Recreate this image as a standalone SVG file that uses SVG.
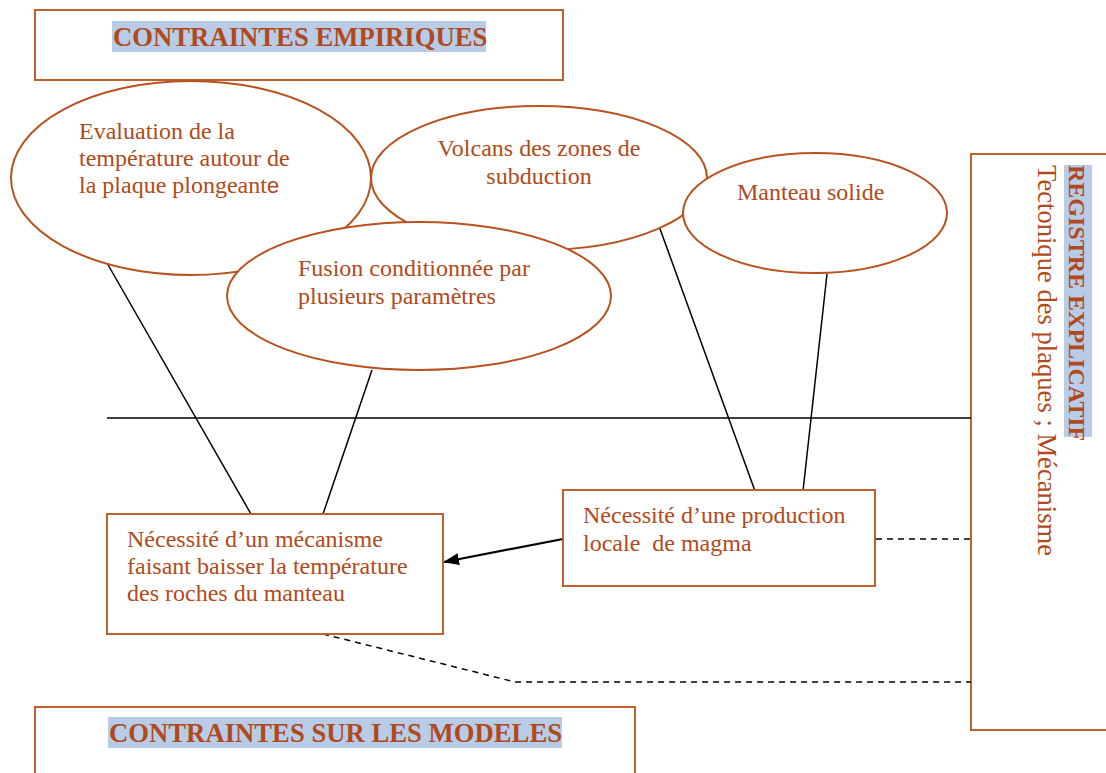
<svg xmlns="http://www.w3.org/2000/svg" width="1106" height="773" viewBox="0 0 1106 773">
<defs>
<style>
.box{fill:#fff;stroke:#C0602E;stroke-width:2}
.ell{fill:#fff;stroke:#B8521F;stroke-width:2}
.t{font-family:"Liberation Serif","Times New Roman",serif;font-size:24px;fill:#B04A1C}
.title{font-family:"Liberation Serif","Times New Roman",serif;font-size:26.7px;font-weight:bold;fill:#B04A1C}
.hl{fill:#B8CCE8}
.ln{stroke:#000;stroke-width:1.5;fill:none}
.dash{stroke:#000;stroke-width:1.5;fill:none;stroke-dasharray:6,5}
</style>
<marker id="arrow" viewBox="0 0 16 12" refX="15" refY="6" markerWidth="16" markerHeight="12" markerUnits="userSpaceOnUse" orient="auto">
<path d="M0,0 L16,6 L0,12 z" fill="#000"/>
</marker>
</defs>

<g id="title-empiriques">
<rect class="box" x="35" y="10" width="528" height="70"/>
<rect class="hl" x="112" y="21" width="374" height="31"/>
<text class="title" x="113" y="46">CONTRAINTES EMPIRIQUES</text>
</g>

<g id="title-modeles">
<rect class="box" x="35" y="707" width="600" height="80"/>
<rect class="hl" x="108" y="717" width="454" height="31"/>
<text class="title" x="109" y="742">CONTRAINTES SUR LES MODELES</text>
</g>

<g id="registre">
<rect class="box" x="971" y="154" width="150" height="576"/>
<rect class="hl" x="1064" y="165" width="28" height="272"/>
<text class="title" style="font-size:24px" transform="translate(1069,165) rotate(90)" x="0" y="0">REGISTRE EXPLICATIF</text>
<text class="t" style="font-size:26.6px" transform="translate(1038,165) rotate(90)" x="0" y="0">Tectonique des plaques ; Mécanisme</text>
</g>

<g id="connectors">
<line class="ln" x1="107" y1="418" x2="971" y2="418"/>
<line class="ln" x1="107" y1="263" x2="251" y2="514"/>
<line class="ln" x1="372" y1="370" x2="323" y2="514"/>
<line class="ln" x1="659" y1="226" x2="755" y2="491"/>
<line class="ln" x1="827" y1="274" x2="803" y2="491"/>
<line x1="563" y1="539" x2="444" y2="562" stroke="#000" stroke-width="2.2" marker-end="url(#arrow)"/>
<line class="dash" x1="876" y1="539" x2="971" y2="539"/>
<polyline class="dash" points="323,634 515,682 971,682"/>
</g>

<g id="ellipse-evaluation">
<ellipse class="ell" cx="191" cy="178" rx="180" ry="97"/>
<text class="t" x="79" y="139">Evaluation de la</text>
<text class="t" x="79" y="166">température autour de</text>
<text class="t" x="79" y="193">la plaque plongeant<tspan style="font-family:'Liberation Sans',Arial,sans-serif;font-size:22px">e</tspan></text>
</g>

<g id="ellipse-volcans">
<ellipse class="ell" cx="539" cy="178" rx="168" ry="72"/>
<text class="t" x="539" y="156" text-anchor="middle">Volcans des zones de</text>
<text class="t" x="539" y="184" text-anchor="middle">subduction</text>
</g>

<g id="ellipse-fusion">
<ellipse class="ell" cx="419" cy="296" rx="192" ry="74"/>
<text class="t" x="298" y="276">Fusion conditionnée par</text>
<text class="t" x="298" y="304">plusieurs paramètres</text>
</g>

<g id="ellipse-manteau">
<ellipse class="ell" cx="815" cy="213" rx="132" ry="60"/>
<text class="t" x="737" y="200">Manteau solide</text>
</g>

<g id="box-mecanisme">
<rect class="box" x="107" y="514" width="336" height="120"/>
<text class="t" x="127" y="547">Nécessité d’un mécanisme</text>
<text class="t" x="127" y="574">faisant baisser la température</text>
<text class="t" x="127" y="601">des roches du manteau</text>
</g>

<g id="box-production">
<rect class="box" x="563" y="490" width="312" height="96"/>
<text class="t" x="583" y="523">Nécessité d’une production</text>
<text class="t" x="583" y="551" xml:space="preserve">locale  de magma</text>
</g>
</svg>
